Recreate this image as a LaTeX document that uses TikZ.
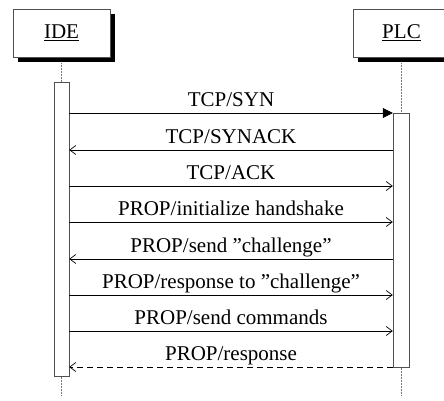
\documentclass[tikz,border=0pt]{standalone}
\usepackage{fontspec}
\setmainfont{Liberation Serif}
\usetikzlibrary{arrows.meta, positioning, shadows}
\definecolor{boxgray}{RGB}{80,80,80}
\definecolor{lifegray}{RGB}{120,120,120}

\tikzset{
  actor/.style={draw=boxgray, fill=white, minimum width=97pt, minimum height=48pt, inner sep=0pt,
    font=\fontsize{21}{24}\selectfont,
    drop shadow={shadow xshift=5pt, shadow yshift=-5pt, opacity=1, fill=black}},
  actbar/.style={draw=boxgray, fill=white, minimum width=15pt, inner sep=0pt},
  lifeline/.style={lifegray, densely dotted, line width=0.5pt},
  msg/.style={black, line width=0.7pt, -{Straight Barb[length=6pt,width=9pt]}},
  reply/.style={msg, dash pattern=on 6pt off 4pt},
  call/.style={msg, -{Triangle[length=10pt,width=10pt]}},
  lbl/.style={anchor=base, yshift=6.5pt, inner sep=0pt, font=\fontsize{21}{24}\selectfont},
}

\begin{document}
\begin{tikzpicture}[x=1pt, y=-1pt]
  \useasboundingbox (0,0) rectangle (444,400);
  \clip (0,0) rectangle (444,400);

  % Lifelines
  \coordinate (ideEnd) at (61.5,395);
  \coordinate (plcEnd) at (401.5,395);
  \node[actor] (ide) at (61.5,33) {\underline{IDE}};
  \node[actor] (plc) at (401.5,33) {\underline{PLC}};
  \draw[lifeline] ([yshift=-6pt]ide.south) -- (ideEnd);
  \draw[lifeline] ([yshift=-6pt]plc.south) -- (plcEnd);

  % Activations
  \node[actbar, minimum height=294pt] (ideBar) at (61.5,229) {};
  \node[actbar, minimum width=16pt, minimum height=254pt] (plcBar) at (401,240) {};

  % Messages
  \coordinate (m1) at (0,113);
  \coordinate (m2) at (0,150);
  \coordinate (m3) at (0,186);
  \coordinate (m4) at (0,222);
  \coordinate (m5) at (0,259);
  \coordinate (m6) at (0,295);
  \coordinate (m7) at (0,331);
  \coordinate (m8) at (0,367);

  \draw[call] (ideBar.east |- m1) -- node[lbl] {TCP/SYN} (plcBar.west |- m1);
  \draw[msg] (plcBar.west |- m2) -- node[lbl] {TCP/SYNACK} (ideBar.east |- m2);
  \draw[msg] (ideBar.east |- m3) -- node[lbl] {TCP/ACK} (plcBar.west |- m3);
  \draw[msg] (ideBar.east |- m4) -- node[lbl] {PROP/initialize handshake} (plcBar.west |- m4);
  \draw[msg] (plcBar.west |- m5) -- node[lbl] {PROP/send ”challenge”} (ideBar.east |- m5);
  \draw[msg] (ideBar.east |- m6) -- node[lbl] {PROP/response to ”challenge”} (plcBar.west |- m6);
  \draw[msg] (ideBar.east |- m7) -- node[lbl] {PROP/send commands} (plcBar.west |- m7);
  \draw[reply] (plcBar.west |- m8) -- node[lbl] {PROP/response} (ideBar.east |- m8);
\end{tikzpicture}
\end{document}
